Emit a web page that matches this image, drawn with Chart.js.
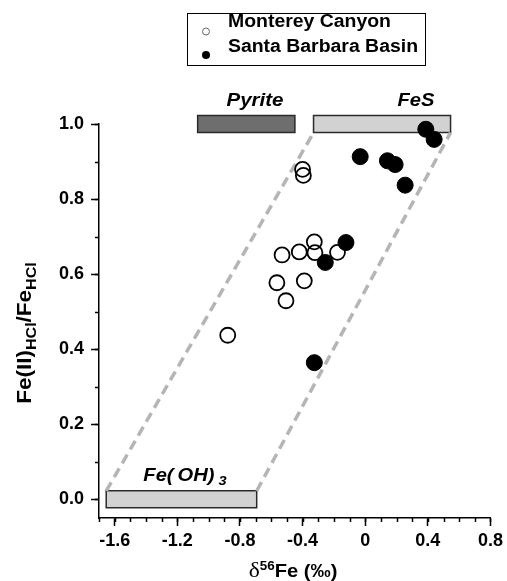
<!DOCTYPE html>
<html>
<head>
<meta charset="utf-8">
<script src="https://cdn.jsdelivr.net/npm/chart.js@4.4.0/dist/chart.umd.min.js"></script>
<style>
  html, body { margin: 0; padding: 0; background: #fff; }
  #wrap { width: 507px; height: 581px; }
</style>
</head>
<body>
<div id="wrap"><canvas id="chart"></canvas></div>
<script>
// Monterey Canyon (open circles)
const montereyX = [-0.40, -0.395, -0.325, -0.421, -0.531, -0.321, -0.177, -0.389, -0.564, -0.506, -0.878];
const montereyY = [0.879, 0.863, 0.686, 0.659, 0.651, 0.657, 0.658, 0.582, 0.577, 0.529, 0.437];

// Santa Barbara Basin (filled circles)
const santaBarbaraX = [0.387, 0.44, -0.032, 0.142, 0.191, 0.255, -0.123, -0.255, -0.325];
const santaBarbaraY = [0.986, 0.959, 0.913, 0.902, 0.892, 0.837, 0.684, 0.631, 0.364];

// end-member ranges (delta56Fe) and their Fe(II) fraction
const mineralNames = ["Pyrite", "FeS", "Fe(OH)3"];
const mineralMin = [-1.07, -0.33, -1.654];
const mineralMax = [-0.449, 0.545, -0.693];
const mineralFrac = [1.0, 1.0, 0.0];

// dashed envelope
const envLeftX = [-1.654, -0.33];
const envRightX = [-0.693, 0.545];
const envY = [0.022, 0.977];

const xTicks = [-1.6, -1.2, -0.8, -0.4, 0, 0.4, 0.8];
const yTicks = [0.0, 0.2, 0.4, 0.6, 0.8, 1.0];

const pts = (xs, ys) => xs.map((v, i) => ({ x: v, y: ys[i] }));

// draw text pieces in a row, stretched by sx
function richText(ctx, parts, x, y, sx, rot) {
  ctx.save();
  ctx.translate(x, y);
  if (rot) ctx.rotate(rot);
  ctx.scale(sx, 1);
  let w = 0;
  parts.forEach(p => { ctx.font = p[1]; w += ctx.measureText(p[0]).width; });
  let cx = -w / 2;
  ctx.textBaseline = "alphabetic";
  ctx.textAlign = "left";
  parts.forEach(p => {
    ctx.font = p[1];
    ctx.fillText(p[0], cx, p[2] || 0);
    cx += ctx.measureText(p[0]).width;
  });
  ctx.restore();
}

const B = "'Liberation Sans', Arial, sans-serif";
const boxFill = ["#6e6e6e", "#d2d2d2", "#d2d2d2"];

const overlay = {
  id: "overlay",
  beforeDatasetsDraw(chart) {
    const { ctx, scales: { x, y } } = chart;
    ctx.save();
    mineralNames.forEach((n, i) => {
      const l = x.getPixelForValue(mineralMin[i]);
      const r = x.getPixelForValue(mineralMax[i]);
      const c = y.getPixelForValue(mineralFrac[i]);
      ctx.fillStyle = boxFill[i];
      ctx.fillRect(l, c - 8.5, r - l, 17);
      ctx.strokeStyle = "#2a2a2a";
      ctx.lineWidth = 1.5;
      ctx.strokeRect(l, c - 8.5, r - l, 17);
    });
    ctx.restore();
  },
  afterDraw(chart) {
    const { ctx, scales: { x, y } } = chart;
    ctx.save();
    ctx.fillStyle = "#000";
    ctx.strokeStyle = "#000";
    // minor ticks
    ctx.lineWidth = 1.5;
    ctx.beginPath();
    for (let k = -17; k <= 8; k++) {
      const px = Math.round(x.getPixelForValue(k / 10)) + 0.5;
      ctx.moveTo(px, y.bottom); ctx.lineTo(px, y.bottom + 4);
    }
    for (let k = 0; k <= 10; k++) {
      const py = Math.round(y.getPixelForValue(k / 10)) + 0.5;
      ctx.moveTo(x.left, py); ctx.lineTo(x.left - 4, py);
    }
    ctx.stroke();

    // mineral labels
    const bi = "italic bold 18px " + B;
    richText(ctx, [["Pyrite", bi]], 255, 106, 1.14);
    richText(ctx, [["FeS", bi]], 416, 106, 1.12);
    richText(ctx, [["Fe(\u2009OH)\u2009", bi], ["3", "italic bold 13px " + B, 4]], 185, 481, 1.12);

    // axis titles
    richText(ctx, [["\u03b4", "21px 'Liberation Serif', serif"], ["56", "bold 12px " + B, -7], ["Fe (\u2030)", "bold 18px " + B]], 293, 577, 1.12);
    richText(ctx, [["Fe(II)", "bold 21px " + B], ["HCl", "bold 15px " + B, 5], ["/Fe", "bold 21px " + B], ["HCl", "bold 15px " + B, 5]], 31, 333, 1.07, -Math.PI / 2);

    // legend
    ctx.lineWidth = 1;
    ctx.strokeStyle = "#000";
    ctx.strokeRect(187.5, 13.5, 238, 52);
    ctx.beginPath();
    ctx.arc(206, 31.5, 3.5, 0, Math.PI * 2);
    ctx.strokeStyle = "#666";
    ctx.stroke();
    ctx.beginPath();
    ctx.arc(206, 55, 4, 0, Math.PI * 2);
    ctx.fill();
    richText(ctx, [["Monterey Canyon", "bold 17.5px " + B]], 228 + 81.5, 27, 1.11);
    richText(ctx, [["Santa Barbara Basin", "bold 17.5px " + B]], 228 + 95, 52, 1.11);
    ctx.restore();
  }
};

const axisGrid = { display: true, drawOnChartArea: false, drawTicks: true, tickLength: 8, tickColor: "#000", tickWidth: 1.5 };
const axisBorder = { display: true, color: "#000", width: 1.5 };
const tickFont = { family: B, size: 18, weight: "bold" };

new Chart(document.getElementById("chart"), {
  type: "scatter",
  data: {
    datasets: [
      {
        label: "Santa Barbara Basin",
        data: pts(santaBarbaraX, santaBarbaraY),
        pointRadius: 8, pointBackgroundColor: "#000", pointBorderColor: "#000", pointBorderWidth: 1
      },
      {
        label: "Monterey Canyon",
        data: pts(montereyX, montereyY),
        pointRadius: 7.5, pointBackgroundColor: "rgba(0,0,0,0)", pointBorderColor: "#000", pointBorderWidth: 1.8
      },
      {
        type: "line", label: "envL", data: pts(envLeftX, envY),
        borderColor: "#b5b5b5", borderWidth: 3.5, borderDash: [10, 6], pointRadius: 0, fill: false
      },
      {
        type: "line", label: "envR", data: pts(envRightX, envY),
        borderColor: "#b5b5b5", borderWidth: 3.5, borderDash: [10, 6], pointRadius: 0, fill: false
      }
    ]
  },
  options: {
    responsive: true,
    maintainAspectRatio: false,
    animation: false,
    clip: false,
    layout: { padding: { left: 0, right: 16, top: 124, bottom: 0 } },
    plugins: { legend: { display: false }, tooltip: { enabled: false } },
    scales: {
      x: {
        type: "linear", min: -1.7, max: 0.8,
        afterBuildTicks: s => { s.ticks = xTicks.map(v => ({ value: v })); },
        afterFit: s => { s.height = 63; },
        grid: axisGrid, border: axisBorder,
        ticks: { color: "#000", font: tickFont, padding: 4, maxRotation: 0, callback: v => v === 0 ? "0" : v.toFixed(1) }
      },
      y: {
        type: "linear", min: -0.05, max: 1.0,
        afterBuildTicks: s => { s.ticks = yTicks.map(v => ({ value: v })); },
        afterFit: s => { s.width = 99; },
        grid: axisGrid, border: axisBorder,
        ticks: { color: "#000", font: tickFont, padding: 7, callback: v => v.toFixed(1) }
      }
    }
  },
  plugins: [overlay]
});
</script>
</body>
</html>
